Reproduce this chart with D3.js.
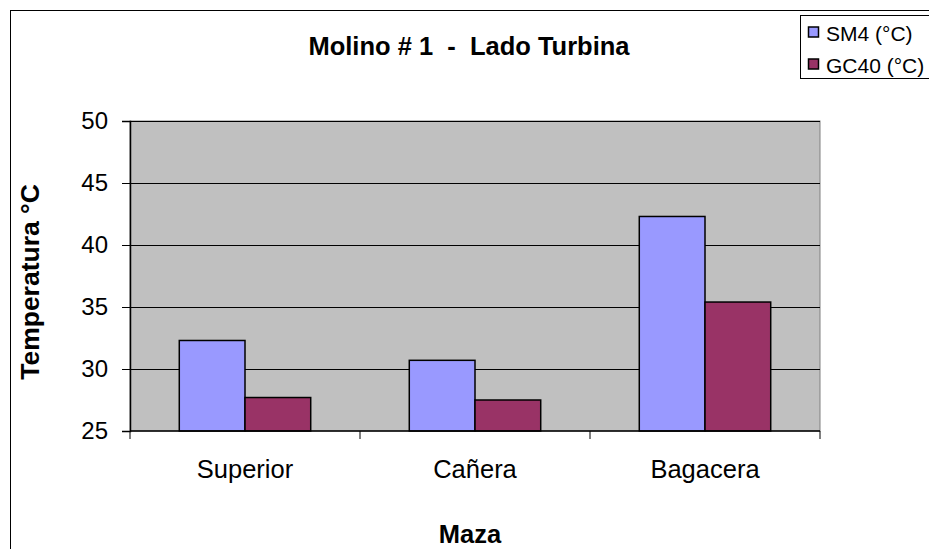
<!DOCTYPE html>
<html>
<head>
<meta charset="utf-8">
<script src="https://cdn.jsdelivr.net/npm/d3@7/dist/d3.min.js"></script>
<style>
  body { margin: 0; background: #fff; }
  text { font-family: Arial, 'Liberation Sans', sans-serif; }
</style>
</head>
<body>
<div id="chart"></div>
<script>
  'use strict';

  // Data.
  const categories = ['Superior', 'Cañera', 'Bagacera'];
  const seriesNames = ['SM4 (°C)', 'GC40 (°C)'];
  const sm4Values = [32.3, 30.7, 42.3];
  const gc40Values = [27.7, 27.5, 35.4];
  const yTicks = [25, 30, 35, 40, 45, 50];
  const seriesColors = ['#9999FF', '#993366'];

  const WIDTH = 929;
  const HEIGHT = 549;
  const plot = {left: 130, top: 121, right: 820, bottom: 431};

  let rows = categories.map(function (c, i) {
    return {cat: c, values: [sm4Values[i], gc40Values[i]]};
  });

  let svg = d3.select('#chart')
    .append('svg')
    .attr('width', WIDTH)
    .attr('height', HEIGHT);

  // Chart frame (runs off the right and bottom edges).
  svg.append('rect')
    .attr('x', 10.5).attr('y', 10.5)
    .attr('width', 1000).attr('height', 1000)
    .attr('fill', '#fff')
    .attr('stroke', '#000')
    .attr('stroke-width', 1);

  let x = d3.scaleBand()
    .domain(categories)
    .range([plot.left, plot.right]);

  // Excel gap width 150%: two bars + 1.5 bar of gap per category.
  let barW = x.bandwidth() / 3.5;
  let xInner = d3.scaleBand()
    .domain(d3.range(seriesNames.length))
    .range([barW * 0.75, barW * 2.75]);

  let y = d3.scaleLinear()
    .domain([25, 50])
    .range([plot.bottom, plot.top]);

  // Plot background.
  svg.append('rect')
    .attr('x', plot.left).attr('y', plot.top)
    .attr('width', plot.right - plot.left)
    .attr('height', plot.bottom - plot.top)
    .attr('fill', '#C0C0C0')
    .attr('stroke', '#808080')
    .attr('stroke-width', 1);

  // Gridlines.
  svg.append('g')
    .selectAll('line')
    .data(yTicks.slice(1))
    .enter()
    .append('line')
    .attr('x1', plot.left).attr('x2', plot.right)
    .attr('y1', function (d) { return Math.round(y(d)) + 0.5; })
    .attr('y2', function (d) { return Math.round(y(d)) + 0.5; })
    .attr('stroke', '#000')
    .attr('stroke-width', 1);

  // Bars.
  let groups = svg.append('g')
    .selectAll('g')
    .data(rows)
    .enter()
    .append('g')
    .attr('transform', function (d) { return 'translate(' + x(d.cat) + ',0)'; });

  groups.selectAll('rect')
    .data(function (d) { return d.values; })
    .enter()
    .append('rect')
    .attr('x', function (d, i) { return xInner(i); })
    .attr('y', function (d) { return y(d); })
    .attr('width', xInner.bandwidth())
    .attr('height', function (d) { return y(25) - y(d); })
    .attr('fill', function (d, i) { return seriesColors[i]; })
    .attr('stroke', '#000')
    .attr('stroke-width', 1.5);

  // Y axis.
  let yAxis = svg.append('g')
    .attr('transform', 'translate(' + plot.left + ',0)')
    .call(d3.axisLeft(y).tickValues(yTicks).tickSize(8).tickPadding(14));
  yAxis.select('.domain').attr('stroke', '#000').attr('stroke-width', 1.5);
  yAxis.selectAll('.tick text')
    .style('font-size', '24px')
    .style('font-family', 'Arial, Liberation Sans, sans-serif')
    .attr('fill', '#000');

  // X axis with ticks at category boundaries.
  let xAxis = svg.append('g')
    .attr('transform', 'translate(0,' + plot.bottom + ')');
  xAxis.append('line')
    .attr('x1', plot.left).attr('x2', plot.right)
    .attr('stroke', '#000').attr('stroke-width', 1.5);
  xAxis.selectAll('line.tk')
    .data(categories.concat(['end']))
    .enter()
    .append('line')
    .attr('class', 'tk')
    .attr('x1', function (d) { return d === 'end' ? plot.right : x(d); })
    .attr('x2', function (d) { return d === 'end' ? plot.right : x(d); })
    .attr('y1', 0).attr('y2', 8)
    .attr('stroke', '#000');
  xAxis.selectAll('text')
    .data(categories)
    .enter()
    .append('text')
    .attr('x', function (d) { return x(d) + x.bandwidth() / 2; })
    .attr('y', 47)
    .attr('text-anchor', 'middle')
    .style('font-size', '25.5px')
    .text(function (d) { return d; });

  // Titles.
  svg.append('text')
    .attr('x', 469).attr('y', 55)
    .attr('text-anchor', 'middle')
    .attr('xml:space', 'preserve')
    .style('white-space', 'pre')
    .style('font-size', '25.5px')
    .style('font-weight', 'bold')
    .text('Molino # 1  -  Lado Turbina');

  svg.append('text')
    .attr('x', 470).attr('y', 543)
    .attr('text-anchor', 'middle')
    .style('font-size', '25.5px')
    .style('font-weight', 'bold')
    .text('Maza');

  svg.append('text')
    .attr('transform', 'translate(39,282) rotate(-90)')
    .attr('text-anchor', 'middle')
    .style('font-size', '26.5px')
    .style('font-weight', 'bold')
    .text('Temperatura °C');

  // Legend.
  let legend = svg.append('g')
    .attr('transform', 'translate(800,15)');
  legend.append('rect')
    .attr('x', 0.5).attr('y', 0.5)
    .attr('width', 200).attr('height', 63)
    .attr('fill', '#fff')
    .attr('stroke', '#000');
  let items = legend.selectAll('g')
    .data(seriesNames)
    .enter()
    .append('g')
    .attr('transform', function (d, i) { return 'translate(0,' + (18 + i * 32) + ')'; });
  items.append('rect')
    .attr('x', 8.5).attr('y', -6)
    .attr('width', 10).attr('height', 10)
    .attr('fill', function (d, i) { return seriesColors[i]; })
    .attr('stroke', '#000')
    .attr('stroke-width', 1.5);
  items.append('text')
    .attr('x', 26).attr('y', 8)
    .style('font-size', '21px')
    .text(function (d) { return d; });
</script>
</body>
</html>
